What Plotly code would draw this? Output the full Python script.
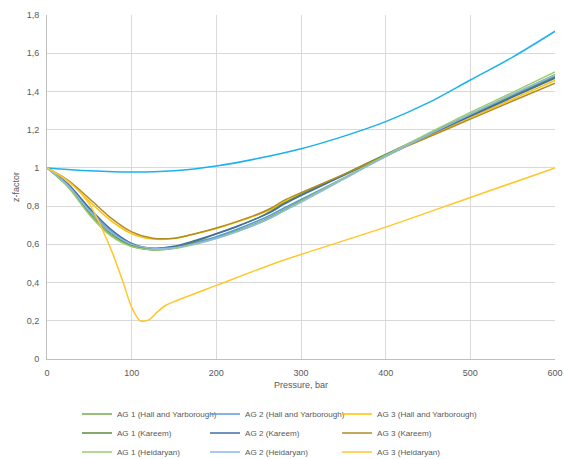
import plotly.graph_objects as go

pressure = [0, 25, 50, 75, 100, 125, 150, 175, 200, 225, 250, 265, 280, 300, 350, 400, 450, 500, 550, 600]

ag1_hy = [1.0, 0.90, 0.76, 0.65, 0.59, 0.572, 0.58, 0.605, 0.635, 0.673, 0.715, 0.745, 0.78, 0.83, 0.945, 1.06, 1.175, 1.28, 1.385, 1.488]
ag2_hy = [1.0, 0.91, 0.78, 0.67, 0.60, 0.578, 0.585, 0.61, 0.64, 0.68, 0.725, 0.755, 0.79, 0.835, 0.945, 1.06, 1.17, 1.275, 1.38, 1.48]
ag3_hy = [1.0, 0.93, 0.825, 0.725, 0.655, 0.628, 0.63, 0.655, 0.683, 0.718, 0.757, 0.785, 0.822, 0.865, 0.962, 1.065, 1.165, 1.262, 1.36, 1.458]
ag1_k = [1.0, 0.905, 0.77, 0.66, 0.595, 0.572, 0.585, 0.615, 0.655, 0.695, 0.74, 0.775, 0.815, 0.86, 0.965, 1.07, 1.175, 1.275, 1.375, 1.475]
ag2_k = [1.0, 0.915, 0.79, 0.68, 0.605, 0.58, 0.59, 0.62, 0.655, 0.695, 0.74, 0.77, 0.81, 0.855, 0.96, 1.065, 1.17, 1.27, 1.37, 1.47]
ag3_k = [1.0, 0.935, 0.84, 0.74, 0.665, 0.632, 0.632, 0.655, 0.685, 0.72, 0.76, 0.79, 0.83, 0.87, 0.965, 1.065, 1.16, 1.255, 1.35, 1.443]
ag1_h = [1.0, 0.90, 0.755, 0.645, 0.588, 0.572, 0.578, 0.60, 0.63, 0.667, 0.71, 0.74, 0.775, 0.825, 0.945, 1.065, 1.18, 1.29, 1.395, 1.502]
ag2_h = [1.0, 0.908, 0.775, 0.665, 0.60, 0.58, 0.582, 0.603, 0.632, 0.668, 0.71, 0.74, 0.775, 0.82, 0.94, 1.06, 1.172, 1.28, 1.385, 1.485]

p_low = [0, 25, 50, 75, 90, 100, 110, 120, 130, 140, 150, 200, 275, 400, 500, 600]
ag3_h = [1.0, 0.93, 0.81, 0.58, 0.40, 0.27, 0.20, 0.205, 0.245, 0.28, 0.30, 0.385, 0.51, 0.69, 0.845, 1.0]

p_extra = [0, 50, 100, 150, 200, 250, 300, 350, 400, 450, 500, 550, 600]
extra = [1.0, 0.985, 0.978, 0.985, 1.01, 1.05, 1.10, 1.165, 1.242, 1.34, 1.46, 1.58, 1.715]

# (name, x, y, colour, legend column)
series = [
    ("AG 1 (Hall and Yarborough)", pressure, ag1_hy, "#70AD47", "legend"),
    ("AG 2 (Hall and Yarborough)", pressure, ag2_hy, "#5B9BD5", "legend2"),
    ("AG 3 (Hall and Yarborough)", pressure, ag3_hy, "#FFC000", "legend3"),
    ("AG 1 (Kareem)", pressure, ag1_k, "#5E8A3C", "legend"),
    ("AG 2 (Kareem)", pressure, ag2_k, "#3F6FA6", "legend2"),
    ("AG 3 (Kareem)", pressure, ag3_k, "#B08D24", "legend3"),
    ("AG 1 (Heidaryan)", pressure, ag1_h, "#9CCB72", "legend"),
    ("AG 2 (Heidaryan)", pressure, ag2_h, "#8DB9E4", "legend2"),
    ("AG 3 (Heidaryan)", p_low, ag3_h, "#FFC72A", "legend3"),
]

fig = go.Figure()
fig.add_trace(go.Scatter(x=p_extra, y=extra, mode="lines", showlegend=False,
                         line=dict(color="#1BB0EE", width=1.5, shape="spline", smoothing=1)))
for name, xs, ys, col, lg in series:
    fig.add_trace(go.Scatter(x=xs, y=ys, mode="lines", name=name, legend=lg,
                             line=dict(color=col, width=1.5, shape="spline", smoothing=0.8)))

leg_common = dict(orientation="v", xanchor="left", y=-0.118, yanchor="top", itemwidth=30,
                  font=dict(size=8.1, color="#595959"), traceorder="normal",
                  bgcolor="rgba(0,0,0,0)")

fig.update_layout(
    width=564, height=459,
    margin=dict(l=47, r=9, t=15, b=100, autoexpand=False),
    paper_bgcolor="white", plot_bgcolor="white",
    separators=",.",
    font=dict(family="Liberation Sans", size=9, color="#595959"),
    legend=dict(x=0.059, **leg_common),
    legend2=dict(x=0.311, **leg_common),
    legend3=dict(x=0.571, **leg_common),
    xaxis=dict(range=[0, 600], dtick=100, tick0=0, showgrid=True, gridcolor="#D9D9D9",
               showline=True, linecolor="#BFBFBF", zeroline=False, ticks="",
               ticklabelstandoff=5,
               title=dict(text="Pressure, bar", standoff=4, font=dict(size=9))),
    yaxis=dict(range=[0, 1.8], dtick=0.2, tick0=0, showgrid=True, gridcolor="#D9D9D9",
               showline=True, linecolor="#BFBFBF", zeroline=False, ticks="",
               ticklabelstandoff=5,
               title=dict(text="z-factor", standoff=5, font=dict(size=9))),
)

fig.write_html("out.html", config={"displayModeBar": False},
               post_script="document.body.style.margin='0';")
